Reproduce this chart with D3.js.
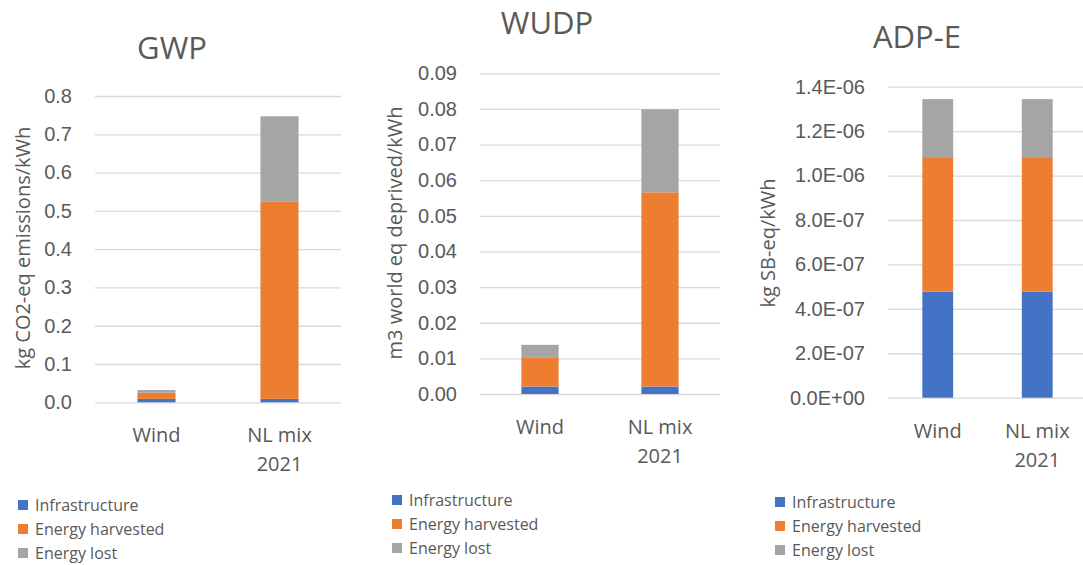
<!DOCTYPE html>
<html>
<head>
<meta charset="utf-8">
<script src="https://cdn.jsdelivr.net/npm/d3@7"></script>
<style>
  body { margin: 0; background: #fff; }
  svg { display: block; font-family: "Open Sans", "Noto Sans", sans-serif; }
  .tick text { fill: #595959; }
  .tick line { stroke: #d9d9d9; }
</style>
</head>
<body>
<div id="chart"></div>
<script>
// categories and series
const categories = ['Wind', 'NL mix 2021'];
const seriesNames = ['Infrastructure', 'Energy harvested', 'Energy lost'];
const seriesColors = ['#4472c4', '#ed7d31', '#a5a5a5'];

// GWP values (kg CO2-eq/kWh)
const gwpInfrastructure = [0.009, 0.009];
const gwpHarvested = [0.016, 0.516];
const gwpLost = [0.007, 0.222];
const gwpTicks = [0, 0.1, 0.2, 0.3, 0.4, 0.5, 0.6, 0.7, 0.8];

// WUDP values (m3 world eq deprived/kWh)
const wudpInfrastructure = [0.0021, 0.0021];
const wudpHarvested = [0.0082, 0.0545];
const wudpLost = [0.0035, 0.0233];
const wudpTicks = [0, 0.01, 0.02, 0.03, 0.04, 0.05, 0.06, 0.07, 0.08, 0.09];

// ADP-E values (kg SB-eq/kWh)
const adpInfrastructure = [4.77e-7, 4.77e-7];
const adpHarvested = [6.06e-7, 6.06e-7];
const adpLost = [2.61e-7, 2.61e-7];
const adpTicks = [0, 2e-7, 4e-7, 6e-7, 8e-7, 1e-6, 1.2e-6, 1.4e-6];

// Excel-like scientific format: 1.4E-06
const sciFormat = v => {
    let s = d3.format('.1e')(v);          // "1.4e-6"
    let [m, e] = s.split('e');
    let sign = e[0] === '-' ? '-' : '+';
    let digits = e.replace(/[-+]/, '').padStart(2, '0');
    return `${m}E${sign}${digits}`;
};

const width = 1083, height = 565;
const svg = d3.select('#chart').append('svg')
    .attr('width', width).attr('height', height);

const panels = [
    { title: 'GWP', label: 'kg CO2-eq emissions/kWh',
      values: [gwpInfrastructure, gwpHarvested, gwpLost],
      ticks: gwpTicks, format: d3.format('.1f'),
      x: [95, 341], y: [402.3, 96], top: 0.8,
      titlePos: [172, 48], labelPos: [23, 248], legendPos: [18, 505] },
    { title: 'WUDP', label: 'm3 world eq deprived/kWh',
      values: [wudpInfrastructure, wudpHarvested, wudpLost],
      ticks: wudpTicks, format: d3.format('.2f'),
      x: [480, 720], y: [394, 73.3], top: 0.09,
      titlePos: [547, 23], labelPos: [395, 233], legendPos: [392, 500] },
    { title: 'ADP-E', label: 'kg SB-eq/kWh',
      values: [adpInfrastructure, adpHarvested, adpLost],
      ticks: adpTicks, format: sciFormat,
      x: [888, 1087], y: [397.7, 86.7], top: 1.4e-6,
      titlePos: [917, 37], labelPos: [768, 243], legendPos: [775, 502] }
];

function drawPanel(p){
    const g = svg.append('g');

    const scaleX = d3.scaleBand(categories, p.x)
        .paddingInner(0.69).paddingOuter(0.345);
    const scaleY = d3.scaleLinear([0, p.top], p.y);

    // gridlines + tick labels
    const axis = g.append('g')
        .attr('transform', `translate(${p.x[0]},0)`)
        .call(d3.axisLeft(scaleY).tickValues(p.ticks).tickFormat(p.format)
            .tickSize(-(p.x[1]-p.x[0])).tickPadding(23));
    axis.select('.domain').remove();
    axis.selectAll('.tick line').attr('stroke', '#d9d9d9').attr('stroke-width', 1.3);
    axis.selectAll('.tick text').style('font-size', '20px').attr('fill', '#595959');

    // stacked data
    const rows = categories.map((c, i) => {
        let r = { cat: c };
        seriesNames.forEach((s, j) => r[s] = p.values[j][i]);
        return r;
    });
    const stacked = d3.stack().keys(seriesNames)(rows);

    g.selectAll('g.series')
        .data(stacked)
        .join('g').classed('series', true)
        .attr('fill', (d, i) => seriesColors[i])
        .selectAll('rect')
        .data(d => d)
        .join('rect')
        .attr('x', d => scaleX(d.data.cat))
        .attr('width', scaleX.bandwidth())
        .attr('y', d => scaleY(d[1]))
        .attr('height', d => scaleY(d[0]) - scaleY(d[1]));

    // category labels (wrap "NL mix 2021" onto two lines)
    const y0 = scaleY(0);
    categories.forEach(c => {
        const lines = c === 'NL mix 2021' ? ['NL mix', '2021'] : [c];
        const t = g.append('text')
            .attr('text-anchor', 'middle')
            .attr('fill', '#595959')
            .style('font-size', '20px');
        lines.forEach((ln, k) => {
            t.append('tspan')
                .attr('x', scaleX(c) + scaleX.bandwidth()/2)
                .attr('y', y0 + 40 + k*29)
                .text(ln);
        });
    });

    // title
    g.append('text')
        .attr('x', p.titlePos[0]).attr('y', p.titlePos[1])
        .attr('dy', '0.35em')
        .attr('text-anchor', 'middle')
        .attr('fill', '#595959')
        .style('font-size', '31px')
        .text(p.title);

    // y axis label
    g.append('text')
        .attr('transform', `translate(${p.labelPos[0]},${p.labelPos[1]})rotate(-90)`)
        .attr('dy', '0.35em')
        .attr('text-anchor', 'middle')
        .attr('fill', '#595959')
        .style('font-size', '20px')
        .text(p.label);

    // legend
    const leg = g.append('g')
        .attr('transform', `translate(${p.legendPos[0]},${p.legendPos[1]})`);
    seriesNames.forEach((s, i) => {
        leg.append('rect')
            .attr('x', 0).attr('y', i*24 - 5)
            .attr('width', 10).attr('height', 10)
            .attr('fill', seriesColors[i]);
        leg.append('text')
            .attr('x', 17).attr('y', i*24)
            .attr('dy', '0.35em')
            .attr('fill', '#595959')
            .style('font-size', '16px')
            .text(s);
    });
}

panels.forEach(drawPanel);
</script>
</body>
</html>
